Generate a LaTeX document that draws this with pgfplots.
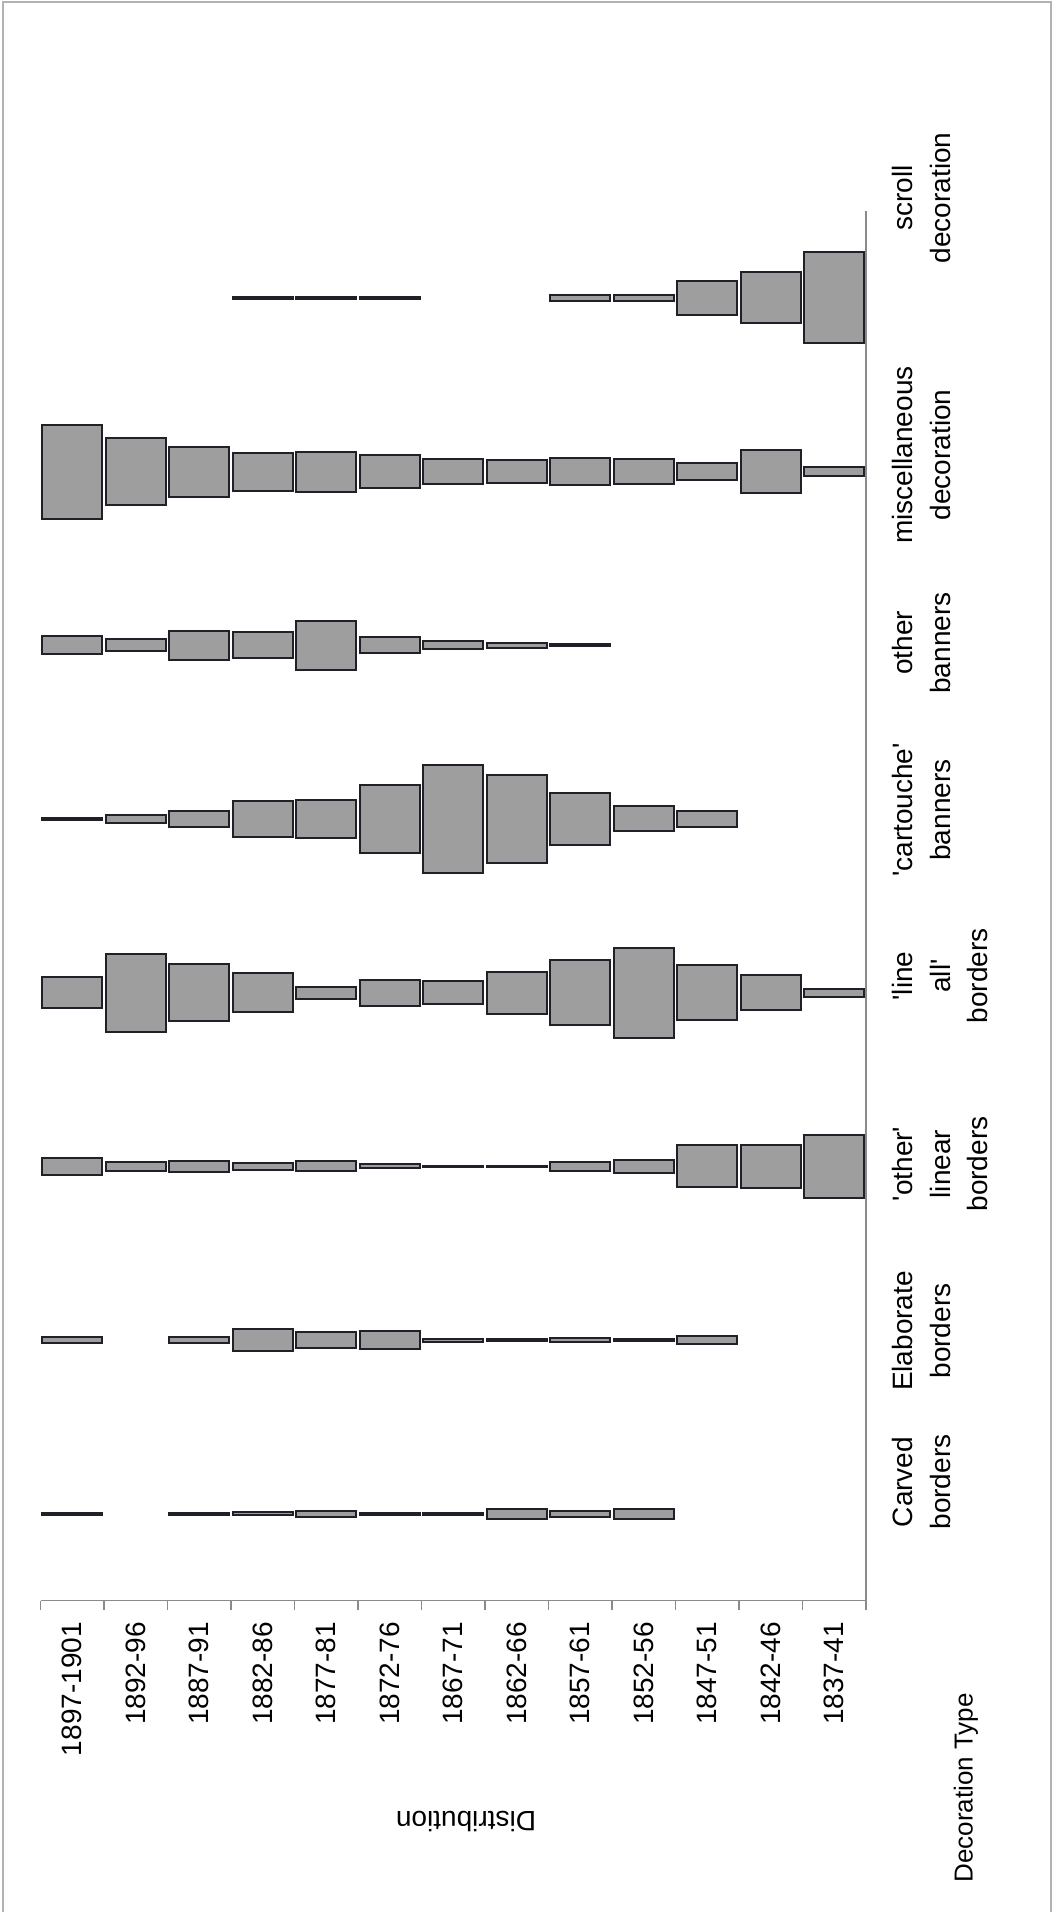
\documentclass[border=0pt]{standalone}
\usepackage{pgfplots}
\pgfplotsset{compat=1.18}
\usepackage{pgfplotstable}
\usepackage{fontspec}
\setmainfont{Liberation Sans}

\pgfdeclareplotmark{nothing}{}

\definecolor{barfill}{HTML}{9E9E9E}
\definecolor{bardraw}{HTML}{202028}
\definecolor{axisgray}{HTML}{8A8A8A}

% x = period index (0 = 1897-1901 ... 12 = 1837-41), y = row centre, v = % of period
\pgfplotstableread{
x y v
0 50 1.5
2 50 1.2
3 50 1.8
4 50 3.5
5 50 1.5
6 50 1.5
7 50 6.1
8 50 3.8
9 50 6.1
}\carved
\pgfplotstableread{
x y v
0 150 3.3
2 150 3.5
3 150 12.7
4 150 8.8
5 150 10.2
6 150 1.7
7 150 0.8
8 150 2.7
9 150 1.3
10 150 5.0
}\elaborate
\pgfplotstableread{
x y v
0 250 10.2
1 250 5.2
2 250 6.7
3 250 4.2
4 250 5.8
5 250 2.3
6 250 1.0
7 250 1.0
8 250 4.8
9 250 7.9
10 250 24.2
11 250 24.6
12 250 36.5
}\otherlinear
\pgfplotstableread{
x y v
0 350 17.7
1 350 45.1
2 350 32.6
3 350 22.5
4 350 7.1
5 350 14.8
6 350 13.2
7 350 24.2
8 350 37.4
9 350 51.7
10 350 31.7
11 350 20.4
12 350 4.8
}\lineall
\pgfplotstableread{
x y v
0 450 1.5
1 450 4.2
2 450 9.2
3 450 20.7
4 450 21.5
5 450 39.6
6 450 62.4
7 450 50.9
8 450 29.8
9 450 14.4
10 450 9.2
}\cartouche
\pgfplotstableread{
x y v
0 550 10.4
1 550 6.9
2 550 16.7
3 550 15.0
4 550 28.2
5 550 9.4
6 550 4.8
7 550 2.9
8 550 1.2
}\otherbanners
\pgfplotstableread{
x y v
0 650 54.1
1 650 38.4
2 650 28.8
3 650 21.9
4 650 23.0
5 650 19.2
6 650 14.8
7 650 13.1
8 650 15.4
9 650 14.8
10 650 9.6
11 650 25.0
12 650 5.4
}\misc
\pgfplotstableread{
x y v
3 750 1.5
4 750 1.5
5 750 1.5
8 750 3.6
9 750 3.3
10 750 19.4
11 750 29.2
12 750 52.4
}\scroll

\pgfplotsset{
  battle/.style={
    only marks, mark=nothing, scatter,
    point meta=\thisrow{v},
    visualization depends on={\thisrow{v} \as \barv},
    scatter/@pre marker code/.code={%
      \pgfmathsetmacro\hv{\barv/2}%
      \path[fill=barfill, draw=bardraw, line width=1pt]
        (axis direction cs:-0.47,-\hv) rectangle (axis direction cs:0.47,\hv);
    },
    scatter/@post marker code/.code={},
  },
}

\newcommand\lab{\fontsize{14}{18.75}\selectfont}
\newcommand\q{\textquotesingle}

\begin{document}
\begin{tikzpicture}
\useasboundingbox (0,0) rectangle (529.5pt,956pt);
\fill[white] (0,0) rectangle (529.5pt,956pt);
\draw[black!30, line width=0.6pt] (1.5pt,-1pt) -- (1.5pt,955pt) -- (525.5pt,955pt) -- (525.5pt,-1pt);
\begin{axis}[
  at={(20.25pt,155.65pt)}, anchor=south west,
  scale only axis, width=412.75pt, height=694.85pt,
  xmin=-0.5, xmax=12.5, ymin=0, ymax=800,
  axis x line*=bottom, axis y line*=right,
  axis line style={axisgray, line width=0.7pt},
  xtick={0,1,2,3,4,5,6,7,8,9,10,11,12},
  xticklabels={1897-1901,1892-96,1887-91,1882-86,1877-81,1872-76,1867-71,1862-66,1857-61,1852-56,1847-51,1842-46,1837-41},
  minor xtick={-0.5,0.5,1.5,2.5,3.5,4.5,5.5,6.5,7.5,8.5,9.5,10.5,11.5,12.5},
  ytick=\empty,
  minor ytick={0,400,800},
  major tick length=0pt,
  minor tick length=4.5pt,
  tick align=outside,
  major x tick style={draw=none},
  minor tick style={axisgray, line width=0.7pt},
  xticklabel style={font=\lab, inner sep=0pt, yshift=-10.5pt, rotate=90, anchor=east},
]
\addplot[battle] table[x=x,y=y] {\carved};
\addplot[battle] table[x=x,y=y] {\elaborate};
\addplot[battle] table[x=x,y=y] {\otherlinear};
\addplot[battle] table[x=x,y=y] {\lineall};
\addplot[battle] table[x=x,y=y] {\cartouche};
\addplot[battle] table[x=x,y=y] {\otherbanners};
\addplot[battle] table[x=x,y=y] {\misc};
\addplot[battle] table[x=x,y=y] {\scroll};
\end{axis}
\begin{scope}[every node/.style={rotate=90, anchor=north, align=center, inner sep=0pt, font=\lab}]
\node at (446pt,215pt) {Carved\\borders};
\node at (446pt,290.5pt) {Elaborate\\borders};
\node at (446pt,374pt) {\q other\q\\linear\\borders};
\node at (446pt,468pt) {\q line\\all\q\\borders};
\node at (446pt,551pt) {\q cartouche\q\\banners};
\node at (446pt,634.5pt) {other\\banners};
\node at (446pt,728.5pt) {miscellaneous\\decoration};
\node at (446pt,857pt) {scroll\\decoration};
\end{scope}
\node[rotate=180, font=\lab] at (233pt,45pt) {Distribution};
\node[rotate=90, font=\fontsize{13}{15}\selectfont] at (483pt,62pt) {Decoration Type};
\end{tikzpicture}
\end{document}
